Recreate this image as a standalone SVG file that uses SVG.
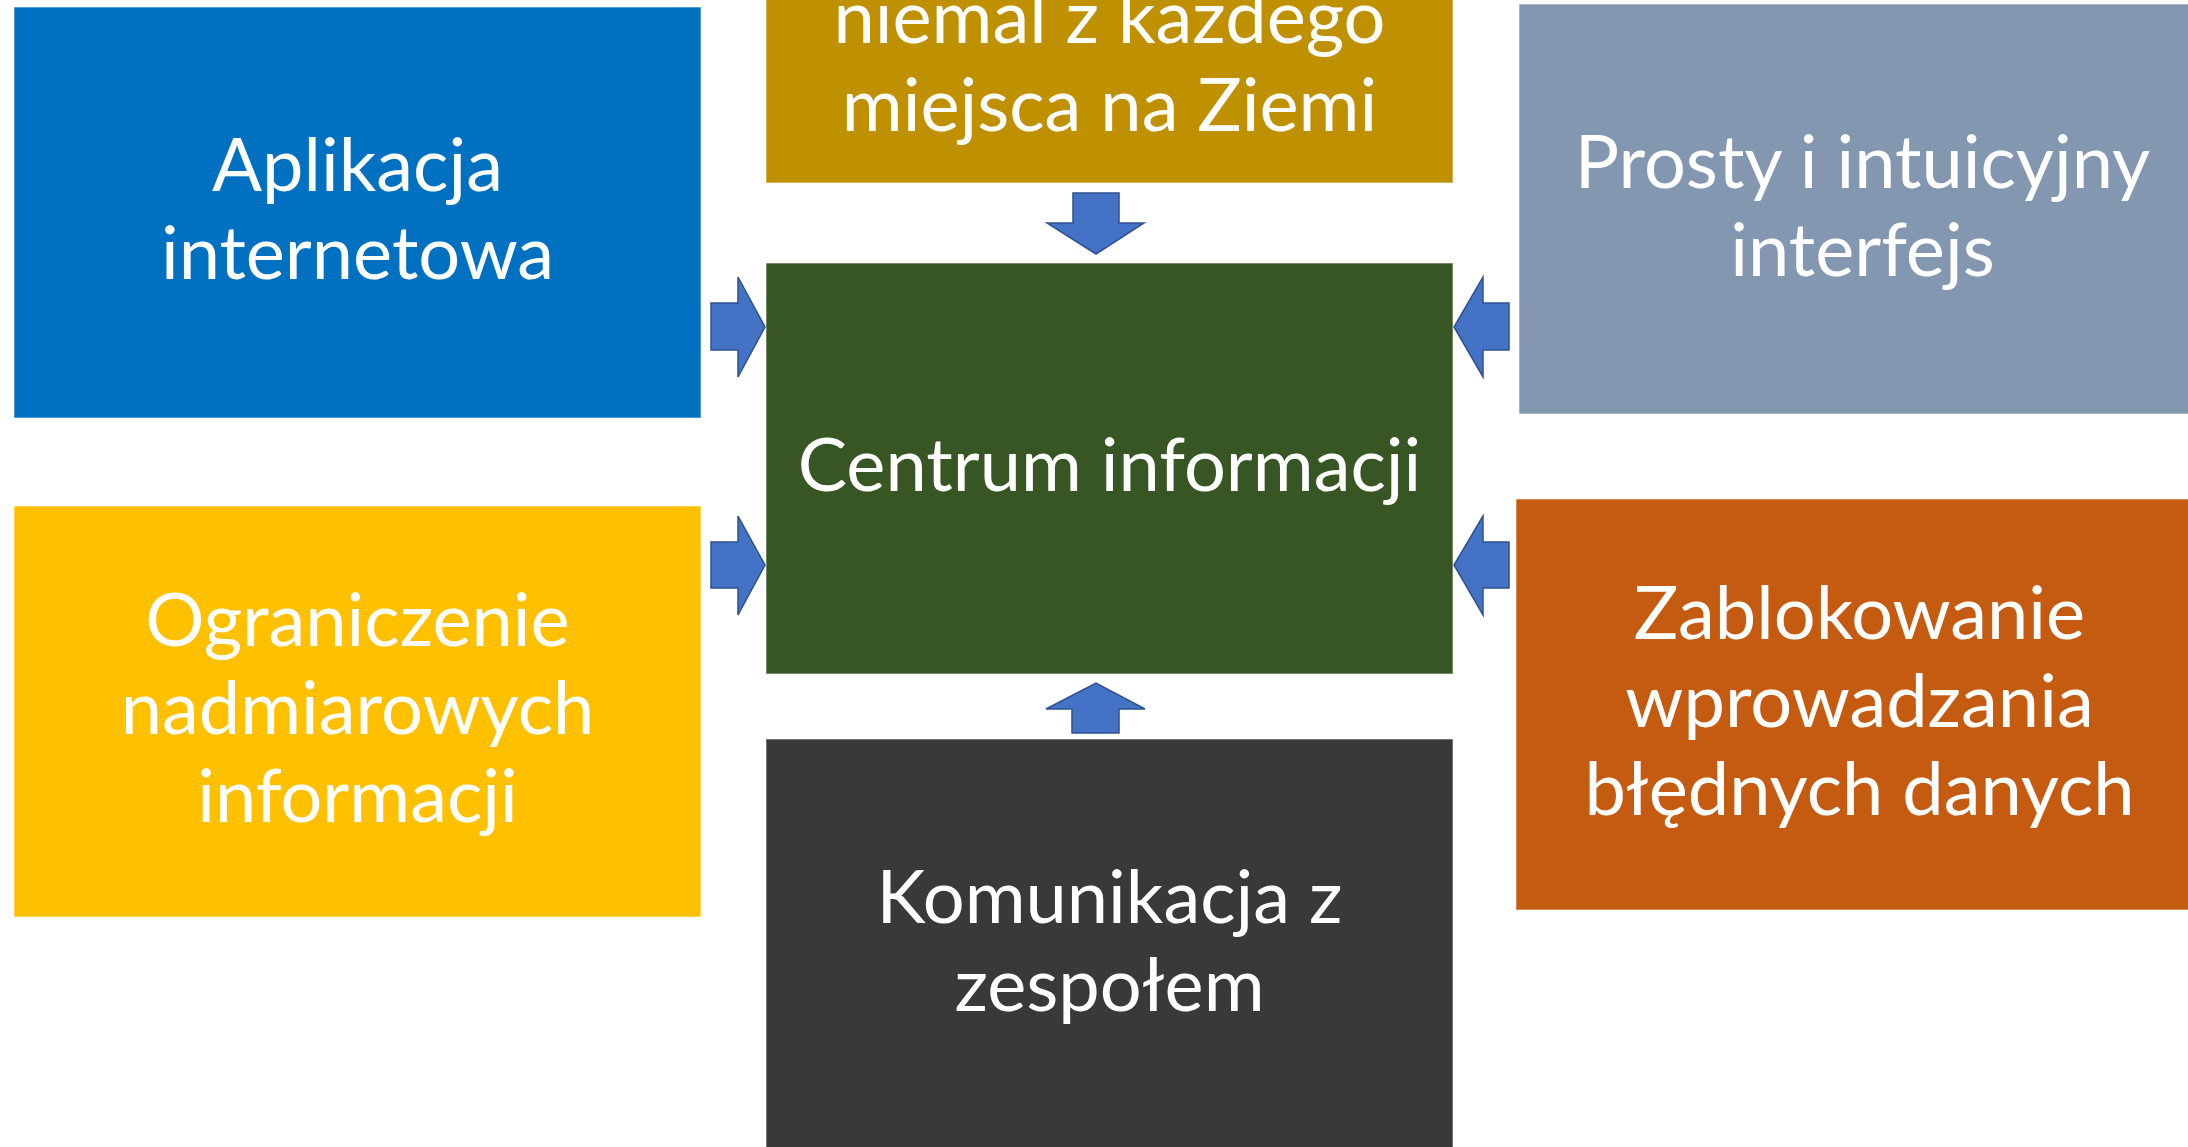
<svg xmlns="http://www.w3.org/2000/svg" width="2188" height="1147" viewBox="0 0 2188 1147">
<style>
.box{stroke:#ffffff;stroke-opacity:0.6;stroke-width:1}
.lbl{font-family:Lato,"Liberation Sans",sans-serif;font-size:74px;fill:#ffffff;text-anchor:middle}
.arr{fill:#4472C4;stroke:#2F528F;stroke-width:1.5;stroke-linejoin:miter}
</style>
<rect width="2188" height="1147" fill="#ffffff"/>
<g id="node-gold">
<rect class="box" x="766" y="-228" width="687" height="411" fill="#BF9000"/>
<text class="lbl" x="1109.5" y="43">niemal z każdego</text>
<text class="lbl" x="1109.5" y="131">miejsca na Ziemi</text>
</g>
<g id="node-blue">
<rect class="box" x="14" y="7" width="687" height="411" fill="#0070C0"/>
<text class="lbl" x="357.5" y="191">Aplikacja</text>
<text class="lbl" x="357.5" y="279">internetowa</text>
</g>
<g id="node-gray">
<rect class="box" x="1519" y="4" width="687" height="410" fill="#8497B0"/>
<text class="lbl" x="1862.5" y="188">Prosty i intuicyjny</text>
<text class="lbl" x="1862.5" y="276">interfejs</text>
</g>
<g id="node-green">
<rect class="box" x="766" y="263" width="687" height="411" fill="#375623"/>
<text class="lbl" x="1109.5" y="491">Centrum informacji</text>
</g>
<g id="node-yellow">
<rect class="box" x="14" y="506" width="687" height="411" fill="#FFC000"/>
<text class="lbl" x="357.5" y="646">Ograniczenie</text>
<text class="lbl" x="357.5" y="734">nadmiarowych</text>
<text class="lbl" x="357.5" y="822">informacji</text>
</g>
<g id="node-orange">
<rect class="box" x="1516" y="499" width="687" height="411" fill="#C55A11"/>
<text class="lbl" x="1859.5" y="639">Zablokowanie</text>
<text class="lbl" x="1859.5" y="727">wprowadzania</text>
<text class="lbl" x="1859.5" y="815">błędnych danych</text>
</g>
<g id="node-dark">
<rect class="box" x="766" y="739" width="687" height="411" fill="#3A3838"/>
<text class="lbl" x="1109.5" y="923">Komunikacja z</text>
<text class="lbl" x="1109.5" y="1011">zespołem</text>
</g>
<g id="connectors">
<polygon class="arr" points="1073,193 1119,193 1119,223 1144,223 1096,254 1047,223 1073,223"/>
<polygon class="arr" points="711,303 738,303 738,277 765,327 738,377 738,350 711,350"/>
<polygon class="arr" points="711,542 738,542 738,516 765,565 738,615 738,588 711,588"/>
<polygon class="arr" points="1509,303 1483,303 1483,277 1454,327 1483,377 1483,350 1509,350"/>
<polygon class="arr" points="1509,542 1483,542 1483,516 1454,565 1483,615 1483,588 1509,588"/>
<polygon class="arr" points="1072,733 1119,733 1119,709 1145,709 1096,683 1046,709 1072,709"/>
</g>
</svg>
